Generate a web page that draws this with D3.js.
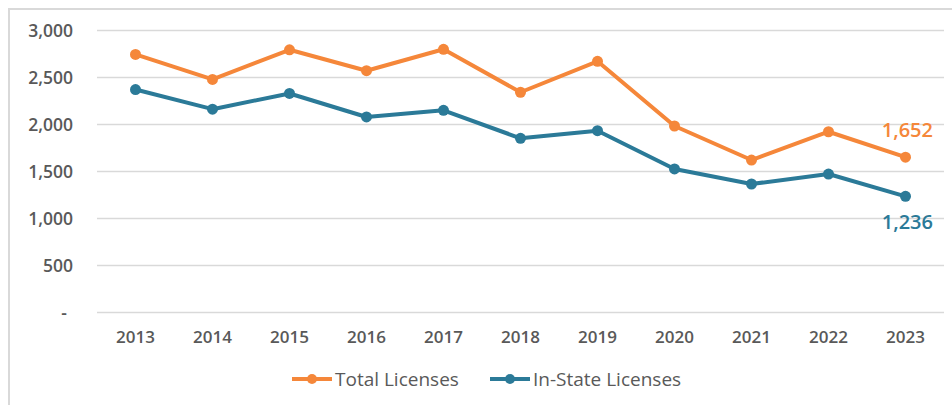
<!DOCTYPE html>
<html>
<head>
<meta charset="utf-8">
<script src="https://cdn.jsdelivr.net/npm/d3@7"></script>
<style>
    body { margin: 0; background: #fff; }
    svg { display: block; }
</style>
</head>
<body>
<div id="chart"></div>
<script>
// chart data
const years = ['2013', '2014', '2015', '2016', '2017', '2018', '2019', '2020', '2021', '2022', '2023'];
const totalLicenses = [2745, 2480, 2795, 2572, 2800, 2343, 2672, 1984, 1622, 1923, 1652];
const inStateLicenses = [2372, 2163, 2330, 2080, 2151, 1853, 1934, 1527, 1367, 1473, 1236];
const yTicks = [0, 500, 1000, 1500, 2000, 2500, 3000];
const seriesNames = ['Total Licenses', 'In-State Licenses'];

const width = 952;
const height = 405;
const orange = '#f5873a';
const blue = '#2b7a98';
const font = "'Open Sans', sans-serif";

const svg = d3.select('#chart')
    .append('svg')
    .attr('width', width)
    .attr('height', height)
;

// outer frame (left and top edge visible)
svg.append('path')
    .attr('d', `M9,${height} V9 H${width}`)
    .style('fill', 'none')
    .style('stroke', '#d9d9d9')
    .style('stroke-width', 2)
;

let x = d3.scaleBand()
    .domain(years)
    .range([97, 944])
;
let y = d3.scaleLinear()
    .domain([0, 3000])
    .range([312.5, 30.5])
;

// gridlines
svg.append('g')
    .selectAll('line')
    .data(yTicks)
    .enter()
    .append('line')
    .attr('x1', 97)
    .attr('x2', 944)
    .attr('y1', d => y(d))
    .attr('y2', d => y(d))
    .style('stroke', '#d9d9d9')
    .style('stroke-width', 1.5)
;

// y axis labels
let yAxis = svg.append('g')
    .attr('transform', 'translate(73,0)')
    .call(d3.axisLeft(y)
        .tickValues(yTicks)
        .tickSize(0)
        .tickPadding(0)
        .tickFormat(d => d === 0 ? '-' : d3.format(',')(d)))
;
yAxis.select('.domain').remove();
yAxis.selectAll('text')
    .attr('dy', '0.36em')
    .attr('dx', d => d === 0 ? -6 : 0)
    .style('font-family', font)
    .style('font-weight', 600)
    .style('font-size', '17.5px')
    .style('fill', '#595959')
;

// x axis labels
let xAxis = svg.append('g')
    .attr('transform', 'translate(0,337)')
    .call(d3.axisBottom(x).tickSize(0).tickPadding(0))
;
xAxis.select('.domain').remove();
xAxis.selectAll('text')
    .attr('dy', '0.36em')
    .style('font-family', font)
    .style('font-weight', 600)
    .style('font-size', '17px')
    .style('fill', '#595959')
;

let cx = d => x(d) + x.bandwidth() / 2;

function drawSeries(values, color) {
    let pts = years.map((yr, i) => [cx(yr), y(values[i])]);
    svg.append('path')
        .datum(pts)
        .attr('d', d3.line())
        .style('fill', 'none')
        .style('stroke', color)
        .style('stroke-width', 4)
        .style('stroke-linejoin', 'round')
    ;
    svg.append('g')
        .selectAll('circle')
        .data(pts)
        .enter()
        .append('circle')
        .attr('cx', d => d[0])
        .attr('cy', d => d[1])
        .attr('r', 5.5)
        .style('fill', color)
    ;
}
drawSeries(totalLicenses, orange);
drawSeries(inStateLicenses, blue);

// end labels
let last = years.length - 1;
svg.append('text')
    .attr('x', 933)
    .attr('y', y(totalLicenses[last]) - 20)
    .attr('text-anchor', 'end')
    .style('font-family', font)
    .style('font-weight', 600)
    .style('font-size', '20px')
    .style('fill', orange)
    .text(d3.format(',')(totalLicenses[last]))
;
svg.append('text')
    .attr('x', 933)
    .attr('y', y(inStateLicenses[last]) + 33)
    .attr('text-anchor', 'end')
    .style('font-family', font)
    .style('font-weight', 600)
    .style('font-size', '20px')
    .style('fill', blue)
    .text(d3.format(',')(inStateLicenses[last]))
;

// legend
let legendX = [292, 490];
let legendColors = [orange, blue];
let legend = svg.append('g')
    .selectAll('g')
    .data(seriesNames)
    .enter()
    .append('g')
    .attr('transform', (d, i) => `translate(${legendX[i]},379)`)
;
legend.append('line')
    .attr('x1', 0)
    .attr('x2', 40)
    .style('stroke', (d, i) => legendColors[i])
    .style('stroke-width', 4)
;
legend.append('circle')
    .attr('cx', 20)
    .attr('r', 5)
    .style('fill', (d, i) => legendColors[i])
;
legend.append('text')
    .attr('x', 43)
    .attr('dy', '0.36em')
    .style('font-family', font)
    .style('font-size', '19px')
    .style('fill', '#595959')
    .text(d => d)
;
</script>
</body>
</html>
